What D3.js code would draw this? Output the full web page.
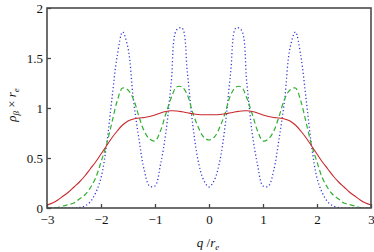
<!DOCTYPE html>
<html>
<head>
<meta charset="utf-8">
<script src="https://cdn.jsdelivr.net/npm/d3@7"></script>
<style>
body { margin: 0; background: #fff; }
</style>
</head>
<body>
<svg id="mainSVG"></svg>
<script>
// chart size
var width = 374;
var height = 252;
// plot box inside the svg
var box = { left: 47, right: 371, top: 8, bottom: 208 };
var serif = "Liberation Serif";

// q / r_e positions, -3 .. 3 step 0.1
var qValues = [-3.0, -2.9, -2.8, -2.7, -2.6, -2.5, -2.4, -2.3, -2.2, -2.1,
    -2.0, -1.9, -1.8, -1.7, -1.6, -1.5, -1.4, -1.3, -1.2, -1.1,
    -1.0, -0.9, -0.8, -0.7, -0.6, -0.5, -0.4, -0.3, -0.2, -0.1,
    0.0, 0.1, 0.2, 0.3, 0.4, 0.5, 0.6, 0.7, 0.8, 0.9,
    1.0, 1.1, 1.2, 1.3, 1.4, 1.5, 1.6, 1.7, 1.8, 1.9,
    2.0, 2.1, 2.2, 2.3, 2.4, 2.5, 2.6, 2.7, 2.8, 2.9, 3.0];

// red solid curve
var redValues = [0.03, 0.05, 0.08, 0.12, 0.16, 0.21, 0.26, 0.32, 0.39, 0.46,
    0.54, 0.62, 0.70, 0.77, 0.83, 0.87, 0.89, 0.90, 0.905, 0.915,
    0.93, 0.95, 0.965, 0.972, 0.97, 0.962, 0.952, 0.942, 0.935, 0.932,
    0.932, 0.932, 0.935, 0.942, 0.952, 0.962, 0.97, 0.972, 0.965, 0.95,
    0.93, 0.915, 0.905, 0.90, 0.89, 0.87, 0.83, 0.77, 0.70, 0.62,
    0.54, 0.46, 0.39, 0.32, 0.26, 0.21, 0.16, 0.12, 0.08, 0.05, 0.03];

// green dashed curve
var greenValues = [0, 0, 0.005, 0.02, 0.035, 0.05, 0.09, 0.13, 0.20, 0.30,
    0.46, 0.63, 0.85, 1.07, 1.20, 1.18, 1.09, 0.92, 0.77, 0.69,
    0.67, 0.77, 0.94, 1.10, 1.21, 1.21, 1.13, 0.95, 0.81, 0.71,
    0.68, 0.71, 0.81, 0.95, 1.13, 1.21, 1.21, 1.10, 0.94, 0.77,
    0.67, 0.69, 0.77, 0.92, 1.09, 1.18, 1.20, 1.07, 0.85, 0.63,
    0.46, 0.30, 0.20, 0.13, 0.09, 0.05, 0.035, 0.02, 0.005, 0, 0];

// blue dotted curve
var blueValues = [0, 0, 0, 0, 0, 0, 0.005, 0.02, 0.06, 0.15,
    0.30, 0.62, 1.08, 1.52, 1.76, 1.60, 1.08, 0.70, 0.38, 0.22,
    0.22, 0.43, 0.75, 1.25, 1.78, 1.80, 1.35, 0.83, 0.47, 0.28,
    0.21, 0.28, 0.47, 0.83, 1.35, 1.80, 1.78, 1.25, 0.75, 0.43,
    0.22, 0.22, 0.38, 0.70, 1.08, 1.60, 1.76, 1.52, 1.08, 0.62,
    0.30, 0.15, 0.06, 0.02, 0.005, 0, 0, 0, 0, 0, 0];

var xTicks = [-3, -2, -1, 0, 1, 2, 3];
var yTicks = [0, 0.5, 1, 1.5, 2];

var svg = d3.select("#mainSVG")
    .attr("width", width)
    .attr("height", height);

var x = d3.scaleLinear().domain([-3, 3]).range([box.left, box.right]);
var y = d3.scaleLinear().domain([0, 2]).range([box.bottom, box.top]);

// clip so curves stay in the box
svg.append("clipPath").attr("id", "clip")
    .append("rect")
    .attr("x", box.left).attr("y", box.top)
    .attr("width", box.right - box.left).attr("height", box.bottom - box.top);

var line = d3.line()
    .x(function(d, i) { return x(qValues[i]); })
    .y(function(d) { return y(d); })
    .curve(d3.curveCatmullRom.alpha(0.5));

var plot = svg.append("g").attr("clip-path", "url(#clip)");

plot.append("path")
    .attr("d", line(blueValues))
    .attr("fill", "none")
    .attr("stroke", "#3a3ad6")
    .attr("stroke-width", 1.3)
    .attr("stroke-dasharray", "1.2,2.4");

plot.append("path")
    .attr("d", line(greenValues))
    .attr("fill", "none")
    .attr("stroke", "#30b030")
    .attr("stroke-width", 1.2)
    .attr("stroke-dasharray", "5,3");

plot.append("path")
    .attr("d", line(redValues))
    .attr("fill", "none")
    .attr("stroke", "#c8282d")
    .attr("stroke-width", 1.1);

function fmt(d) {
    return (d < 0 ? "\u2212" : "") + Math.abs(d);
}

// axes, ticks pointing inwards
var xAxis = svg.append("g")
    .attr("transform", "translate(0," + box.bottom + ")")
    .call(d3.axisBottom(x).tickValues(xTicks).tickFormat(fmt).tickSizeInner(-4).tickSizeOuter(0).tickPadding(7));

var yAxis = svg.append("g")
    .attr("transform", "translate(" + box.left + ",0)")
    .call(d3.axisLeft(y).tickValues(yTicks).tickFormat(fmt).tickSizeInner(-4).tickSizeOuter(0).tickPadding(4));

[xAxis, yAxis].forEach(function(a) {
    a.attr("font-family", serif).attr("font-size", 13);
    a.select(".domain").remove();
    a.selectAll("line").attr("stroke", "#444").attr("stroke-width", 1.3);
    a.selectAll("text").attr("fill", "#111");
});

// frame
svg.append("rect")
    .attr("x", box.left).attr("y", box.top)
    .attr("width", box.right - box.left).attr("height", box.bottom - box.top)
    .attr("fill", "none")
    .attr("stroke", "#4a4a4a")
    .attr("stroke-width", 1.6);

// axis titles
var xt = svg.append("text")
    .attr("x", 208).attr("y", 247)
    .attr("text-anchor", "middle")
    .attr("font-family", serif)
    .attr("font-size", 13)
    .attr("fill", "#111");
xt.append("tspan").attr("font-style", "italic").text("q");
xt.append("tspan").text(" /");
xt.append("tspan").attr("font-style", "italic").text("r");
xt.append("tspan").attr("dy", 3).attr("font-size", 9).attr("font-style", "italic").text("e");

var yt = svg.append("text")
    .attr("transform", "translate(16,105) rotate(-90)")
    .attr("text-anchor", "middle")
    .attr("font-family", serif)
    .attr("font-size", 13)
    .attr("fill", "#111");
yt.append("tspan").attr("font-style", "italic").text("\u03c1");
yt.append("tspan").attr("dy", 3).attr("font-size", 9).attr("font-style", "italic").text("\u03b2");
yt.append("tspan").attr("dy", -3).text(" \u00d7 ");
yt.append("tspan").attr("font-style", "italic").text("r");
yt.append("tspan").attr("dy", 3).attr("font-size", 9).attr("font-style", "italic").text("e");
</script>
</body>
</html>
